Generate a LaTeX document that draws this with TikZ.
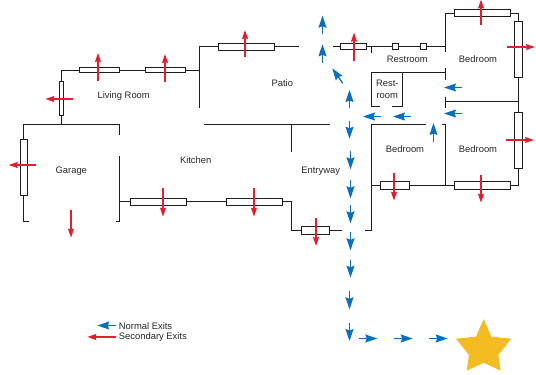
\documentclass[tikz,border=0pt]{standalone}
\usepackage{fontspec}
\setmainfont{Liberation Sans}
\usetikzlibrary{arrows.meta}
\definecolor{exitblue}{HTML}{0A70BC}
\definecolor{exitred}{HTML}{E0202E}
\definecolor{stargold}{HTML}{F5BC22}
\definecolor{wallc}{HTML}{1E1E1E}
\tikzset{
  wall/.style={draw=wallc,line width=1.2pt,line cap=butt},
  win/.style={draw=wallc,fill=white,line width=1.1pt},
  normal/.style={draw=exitblue,line width=1.3pt,-{Stealth[length=12pt,width=8pt,inset=1.5pt]}},
  second/.style={draw=exitred,line width=1.4pt,-{Stealth[length=9pt,width=6pt,inset=1pt]}},
  lbl/.style={font=\fontsize{9.4pt}{10.8pt}\selectfont,text=black!85,inner sep=0pt,align=center}
}
\begin{document}
\begin{tikzpicture}[x=1pt,y=-1pt]
\useasboundingbox (0,0) rectangle (536,375);
% walls
\draw[wall] (61.5,124.5) -- (61.5,70.5) -- (199.5,70.5);
\draw[wall] (199.5,107.5) -- (199.5,46.5) -- (299,46.5);
\draw[wall] (29,221.5) -- (23.5,221.5) -- (23.5,124.5) -- (120,124.5);
\draw[wall] (119.5,124.5) -- (119.5,134.7);
\draw[wall] (119.5,156) -- (119.5,221.5) -- (116.3,221.5);
\draw[wall] (204,124.5) -- (330,124.5);
\draw[wall] (291.5,124.5) -- (291.5,151.7);
\draw[wall] (119.5,201.5) -- (291.5,201.5) -- (291.5,230.5) -- (341.7,230.5);
\draw[wall] (365,230.5) -- (371.5,230.5) -- (371.5,124.5) -- (426,124.5);
\draw[wall] (441.7,124.5) -- (445.5,124.5) -- (445.5,185.5);
\draw[wall] (333.3,46.5) -- (445.5,46.5);
\draw[wall] (371.5,46.5) -- (371.5,53.3);
\draw[wall] (445.5,51.7) -- (445.5,13.5) -- (518.5,13.5) -- (518.5,185.5) -- (371.5,185.5);
\draw[wall] (445.5,68) -- (445.5,80);
\draw[wall] (445.5,96.5) -- (445.5,108);
\draw[wall] (380,106.5) -- (371.5,106.5) -- (371.5,72.5) -- (445.5,72.5);
\draw[wall] (392.3,106.5) -- (402.5,106.5) -- (402.5,72.5);
\draw[wall] (445.5,101.5) -- (518.5,101.5);
% windows
\draw[win] (79.5,67.5) rectangle (119.5,72.5);
\draw[win] (145.5,67.5) rectangle (185.5,72.5);
\draw[win] (59.5,81.5) rectangle (63.5,115.5);
\draw[win] (218.5,43.5) rectangle (274.5,50.5);
\draw[win] (20.5,139.5) rectangle (27.5,195.5);
\draw[win] (130.5,198.5) rectangle (186.5,205.5);
\draw[win] (226.5,198.5) rectangle (282.5,205.5);
\draw[win] (301.5,226.5) rectangle (329.5,234.5);
\draw[win] (340.5,43.5) rectangle (366.5,49.5);
\draw[win] (392.5,43.5) rectangle (398.5,49.5);
\draw[win] (420.5,43.5) rectangle (426.5,49.5);
\draw[win] (454.5,9.5) rectangle (510.5,16.5);
\draw[win] (514.5,21.5) rectangle (522.5,77.5);
\draw[win] (514.5,112.5) rectangle (522.5,168.5);
\draw[win] (380.5,181.5) rectangle (409.5,189.5);
\draw[win] (454.5,181.5) rectangle (510.5,189.5);
% secondary exits
\draw[second] (98,81) -- (98,53);
\draw[second] (165,81.7) -- (165,54);
\draw[second] (73.3,99) -- (45.3,99);
\draw[second] (245,57.3) -- (245,30);
\draw[second] (36,165) -- (8.7,165);
\draw[second] (71,209.7) -- (71,237.7);
\draw[second] (163,188.3) -- (163,216.7);
\draw[second] (254,188.3) -- (254,216.7);
\draw[second] (316,218) -- (316,246);
\draw[second] (354,60.7) -- (354,32.7);
\draw[second] (481,25) -- (481,-0.5);
\draw[second] (507.3,47) -- (535,47);
\draw[second] (506,140) -- (534,140);
\draw[second] (394,172.7) -- (394,200.7);
\draw[second] (481,175) -- (481,202.7);
% normal exits
\draw[normal] (322.5,34.3) -- (322.5,15.7);
\draw[normal] (322.5,62.7) -- (322.5,44.3);
\draw[normal] (342.7,83.3) -- (332.3,68.3);
\draw[normal] (349.5,108.3) -- (349.5,90);
\draw[normal] (349.5,120.7) -- (349.5,138.7);
\draw[normal] (350.5,151) -- (350.5,169.3);
\draw[normal] (350.5,180) -- (350.5,198.3);
\draw[normal] (350.5,205) -- (350.5,223.3);
\draw[normal] (350.5,231.7) -- (350.5,250.3);
\draw[normal] (350.5,259.7) -- (350.5,277.7);
\draw[normal] (349.5,291) -- (349.5,309.3);
\draw[normal] (349.5,322.7) -- (349.5,341);
\draw[normal] (359.3,338.5) -- (377.3,338.5);
\draw[normal] (394.3,338.5) -- (412.7,338.5);
\draw[normal] (429.3,338.5) -- (447.7,338.5);
\draw[normal] (381,116.5) -- (363,116.5);
\draw[normal] (411,116.5) -- (393,116.5);
\draw[normal] (462.3,113.5) -- (444,113.5);
\draw[normal] (462.3,87.5) -- (444,87.5);
\draw[normal] (433.5,141.7) -- (433.5,123);
% star
\fill[stargold] (483.7,319) -- (491.3,336.7) -- (511.3,338.7) -- (498.3,355) -- (500.7,370.7) -- (483.7,362.7) -- (466.7,370.7) -- (469,355) -- (456,338.7) -- (476,336.7) -- cycle;
% legend
\draw[normal] (115.7,325.5) -- (97.3,325.5);
\draw[second] (115.7,337) -- (87.3,337);
\node[lbl,anchor=west] (lnormal) at (118.7,325.7) {Normal Exits};
\node[lbl,anchor=west] (lsecond) at (118.7,336.7) {Secondary Exits};
% labels
\node[lbl] (living) at (123.7,95.7) {Living Room};
\node[lbl] (garage) at (71.3,170.7) {Garage};
\node[lbl] (kitchen) at (195.7,159.7) {Kitchen};
\node[lbl] (patio) at (282.3,82.7) {Patio};
\node[lbl] (restroom) at (407.3,59.7) {Restroom};
\node[lbl] (bedA) at (478,58.7) {Bedroom};
\node[lbl] (rest) at (387.3,89.5) {Rest-\\[1.5pt]room};
\node[lbl] (bedB) at (405,148.7) {Bedroom};
\node[lbl] (bedC) at (478,148.7) {Bedroom};
\node[lbl] (entry) at (320.7,171) {Entryway};
\end{tikzpicture}
\end{document}
